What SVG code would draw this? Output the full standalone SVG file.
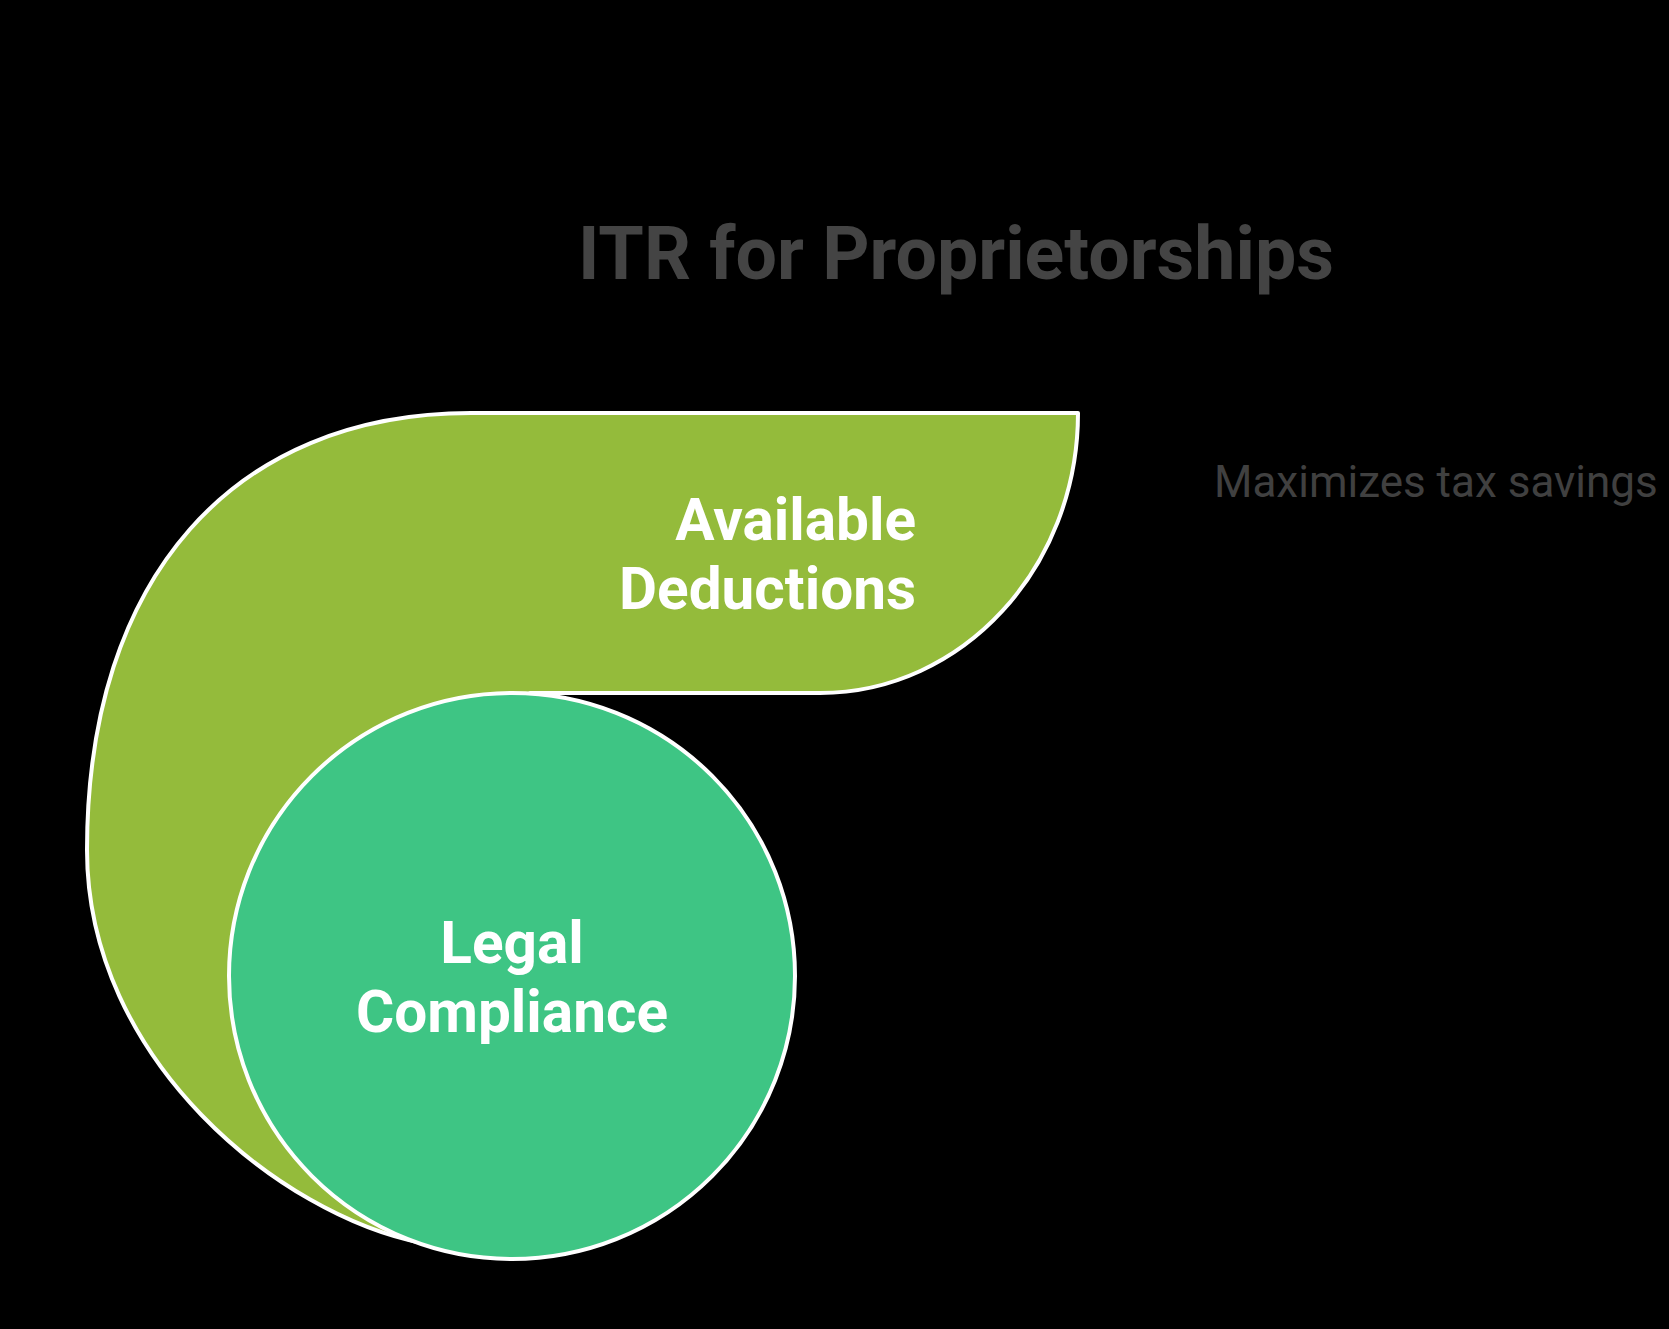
<svg xmlns="http://www.w3.org/2000/svg" width="1669" height="1329" viewBox="0 0 1669 1329">
<style>
.bg{fill:#000}
.shape{stroke:#fff;stroke-width:4;stroke-linejoin:round}
.lbl{font-family:Roboto,"Liberation Sans",sans-serif;font-weight:bold;font-size:58.5px;fill:#fff}
.title{font-family:Roboto,"Liberation Sans",sans-serif;font-weight:bold;font-size:73.5px;fill:#444}
.note{font-family:Roboto,"Liberation Sans",sans-serif;font-size:44px;fill:#404040}
</style>
<rect class="bg" x="0" y="0" width="1669" height="1329"/>
<text class="title" x="956" y="279" text-anchor="middle">ITR for Proprietorships</text>
<g id="available-deductions">
<path class="shape" fill="#94BB3B" d="M471,413 L1078,413 C1078,567.6 962.4,693 820,693 L530,693 L512,976 L422,1243 C280,1215 87,1060 87,850 C87,578 233,413 471,413 Z"/>
<text class="lbl" text-anchor="end"><tspan x="916" y="540">Available</tspan><tspan x="916" y="609">Deductions</tspan></text>
</g>
<g id="legal-compliance">
<circle class="shape" fill="#3EC584" cx="512" cy="976" r="283"/>
<text class="lbl" text-anchor="middle"><tspan x="512" y="963">Legal</tspan><tspan x="512" y="1032">Compliance</tspan></text>
</g>
<g id="note">
<text class="note" x="1214" y="497">Maximizes tax savings</text>
</g>
<g id="connectors"></g>
</svg>
